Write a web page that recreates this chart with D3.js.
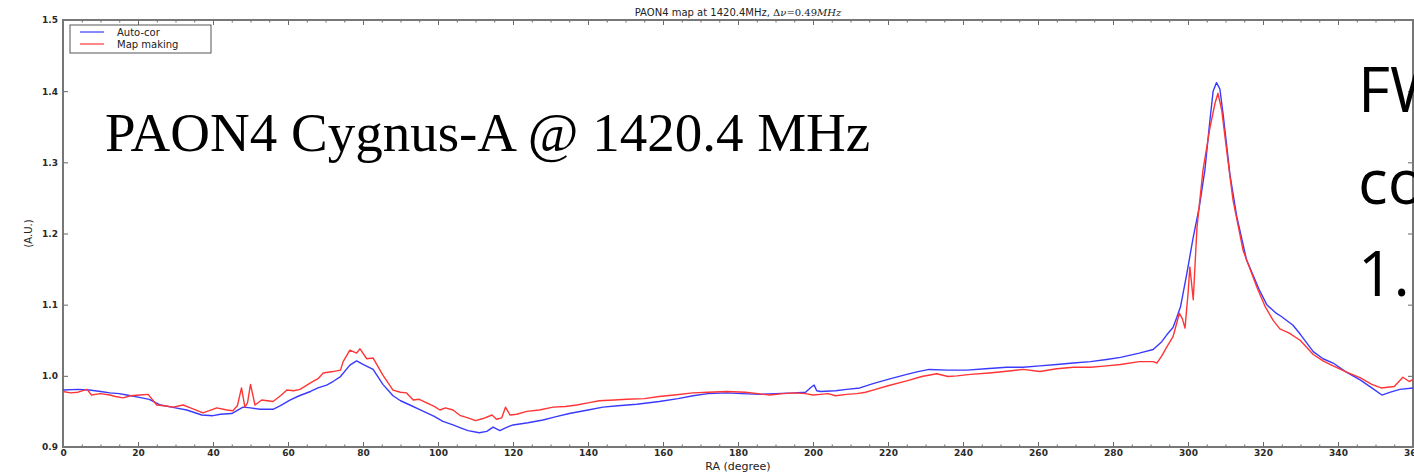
<!DOCTYPE html>
<html>
<head>
<meta charset="utf-8">
<script src="https://cdn.jsdelivr.net/npm/d3@7"></script>
<style>
  body { margin: 0; background: #fff; }
  svg { display: block; }
  .tick text { font-family: "DejaVu Sans", sans-serif; font-size: 9px; fill: #2a2a2a; font-weight: 600; }
  .axis path { display: none; }
  .axis line { stroke: #666; }
</style>
</head>
<body>
<svg width="1414" height="472"></svg>
<script>
// RA (degree) sample positions and values
var raAuto = [0,4,7,10,12.5,15,17,20,23,26,30,33,37,40,42,45,48,50,52.5,56,58,60.5,63,66,68,70.3,72,74,76.5,78.3,80,82.7,85.3,88,90,92.5,95,97,99,101.3,104,106,108,111,113,114.7,116.5,118,120,124,128,131,135,140,144,148,153,159,164,168,172,177,181,186,190,195,198,199.5,200.3,201,202,206,209,212.5,216,220,225,228,231,236,241,246,251.7,256,260.5,265,269.4,274,278.3,282,287,290.7,293,294.4,296,297,298,299.7,301.3,303,304.5,305.9,306.7,307.6,308.5,309.4,311.2,313,315.6,319,321,323.5,325,328,330,333.4,336,338.7,342,346,349,351.7,354,356.5,360];
var autoCor = [0.980,0.981,0.980,0.978,0.976,0.975,0.973,0.970,0.967,0.959,0.955,0.952,0.945,0.944,0.946,0.947,0.956,0.955,0.953,0.953,0.958,0.966,0.972,0.978,0.983,0.987,0.992,0.999,1.015,1.021,1.016,1.009,0.988,0.972,0.965,0.959,0.953,0.948,0.943,0.936,0.931,0.927,0.923,0.920,0.922,0.928,0.923,0.927,0.931,0.934,0.938,0.942,0.947,0.952,0.956,0.958,0.960,0.964,0.968,0.972,0.975,0.976,0.975,0.974,0.975,0.976,0.977,0.984,0.987,0.979,0.978,0.979,0.981,0.983,0.989,0.995,1.002,1.006,1.009,1.008,1.008,1.010,1.012,1.012,1.014,1.016,1.018,1.020,1.023,1.026,1.032,1.037,1.048,1.058,1.068,1.082,1.097,1.144,1.192,1.237,1.289,1.362,1.400,1.412,1.403,1.366,1.282,1.224,1.163,1.121,1.100,1.088,1.083,1.071,1.058,1.034,1.024,1.018,1.006,0.994,0.983,0.973,0.977,0.981,0.983];

var raMap = [0,2,4,6.4,7.6,10,12.5,14,16,18,20.5,22.7,25,27,29.4,32,34,37.3,39,41,43.7,45.3,46.5,47.6,48.5,49.2,50,51.2,53,56,58,59.7,61.5,63.2,66,68,69.4,72,74,74.7,76.5,78.3,79.2,81,82.7,85.3,88,90,91.6,93.4,95,97,99,100.5,102,104,106,108,110,112,114.4,115.6,117,118,119.2,121,123.7,127,130.7,134,137,140,143,147,150.4,155,159,163,168,172,177,182,188.5,192,195,198,200,202,204,206,209,211.7,214,216,220,225,229,233,236,238.4,242,247,251,256,260.5,265,269.4,274,278.3,282,287,290.7,291.7,293,294.4,296,297.7,298.5,299.2,300,300.5,301.4,302.4,304,305.9,307.2,308,309,310.4,312,314.7,318.4,320.5,322.7,324.5,327,329.9,333.4,336,338.7,342,346,349,351.5,355,357.3,359,360];
var mapMaking = [0.978,0.976,0.977,0.981,0.973,0.975,0.973,0.971,0.969,0.972,0.973,0.974,0.959,0.958,0.956,0.959,0.955,0.948,0.951,0.955,0.952,0.951,0.958,0.983,0.956,0.962,0.988,0.959,0.966,0.964,0.972,0.980,0.979,0.981,0.990,0.996,1.004,1.006,1.008,1.020,1.036,1.032,1.038,1.024,1.025,1.001,0.980,0.977,0.976,0.966,0.967,0.962,0.957,0.952,0.955,0.952,0.944,0.941,0.937,0.940,0.945,0.939,0.941,0.956,0.945,0.946,0.950,0.952,0.956,0.957,0.959,0.962,0.965,0.966,0.967,0.968,0.971,0.973,0.976,0.977,0.978,0.977,0.973,0.975,0.976,0.975,0.973,0.974,0.975,0.972,0.974,0.975,0.977,0.980,0.986,0.993,0.999,1.003,0.999,1.000,1.002,1.004,1.006,1.009,1.006,1.010,1.012,1.012,1.014,1.016,1.020,1.020,1.018,1.028,1.041,1.055,1.088,1.080,1.067,1.115,1.153,1.107,1.209,1.289,1.350,1.383,1.397,1.373,1.313,1.247,1.176,1.124,1.098,1.078,1.066,1.060,1.050,1.030,1.021,1.014,1.006,0.997,0.988,0.983,0.985,0.998,0.992,0.995];

var xMajor = [0,20,40,60,80,100,120,140,160,180,200,220,240,260,280,300,320,340,360];
var yMajor = [0.9,1.0,1.1,1.2,1.3,1.4,1.5];
var legendNames = ["Auto-cor", "Map making"];
var colors = ["#3a3aff", "#ff3535"];

var svg = d3.select("svg"),
    margin = {top: 20, right: 1, bottom: 25, left: 63},
    width = +svg.attr("width") - margin.left - margin.right,
    height = +svg.attr("height") - margin.top - margin.bottom,
    g = svg.append("g").attr("transform", "translate(" + margin.left + "," + margin.top + ")");

var x = d3.scaleLinear().domain([0, 360]).range([0, width]);
var y = d3.scaleLinear().domain([0.9, 1.5]).range([height, 0]);

var xMinor = d3.range(0, 361, 5).filter(function(d) { return d % 20 !== 0; });

// ticks (inward, matplotlib style)
g.append("g").attr("class", "axis")
    .attr("transform", "translate(0," + height + ")")
    .call(d3.axisBottom(x).tickValues(xMajor).tickSize(-5).tickPadding(3).tickFormat(d3.format("d")));
g.append("g").attr("class", "axis")
    .attr("transform", "translate(0," + height + ")")
    .call(d3.axisBottom(x).tickValues(xMinor).tickSize(-2.5).tickFormat(""));
g.append("g").attr("class", "axis")
    .call(d3.axisTop(x).tickValues(xMajor).tickSize(-5).tickFormat(""));
g.append("g").attr("class", "axis")
    .call(d3.axisTop(x).tickValues(xMinor).tickSize(-2.5).tickFormat(""));
g.append("g").attr("class", "axis")
    .call(d3.axisLeft(y).tickValues(yMajor).tickSize(-5).tickPadding(5).tickFormat(d3.format(".1f")));
g.append("g").attr("class", "axis")
    .attr("transform", "translate(" + width + ",0)")
    .call(d3.axisRight(y).tickValues(yMajor).tickSize(-5).tickFormat(""));

// frame
g.append("rect")
    .attr("width", width).attr("height", height)
    .attr("fill", "none").attr("stroke", "#777").attr("stroke-width", 2);

var line = d3.line()
    .x(function(d) { return x(d[0]); })
    .y(function(d) { return y(d[1]); });

var series = [d3.zip(raAuto, autoCor), d3.zip(raMap, mapMaking)];

g.selectAll(".series")
    .data(series)
    .enter().append("path")
      .attr("class", "series")
      .attr("fill", "none")
      .attr("stroke", function(d, i) { return colors[i]; })
      .attr("stroke-width", 1.4)
      .attr("stroke-linejoin", "round")
      .attr("d", line);

// legend
var legend = g.append("g").attr("transform", "translate(7,5)");
legend.append("rect")
    .attr("width", 141).attr("height", 28)
    .attr("fill", "#fff").attr("stroke", "#555").attr("stroke-width", 1);
legend.selectAll(".leg")
    .data(legendNames)
    .enter().append("g")
      .attr("transform", function(d, i) { return "translate(10," + (7 + i * 12) + ")"; })
      .each(function(d, i) {
        var s = d3.select(this);
        s.append("line").attr("x1", 0).attr("x2", 24).attr("stroke", colors[i]).attr("stroke-width", 1.2);
        s.append("text").attr("x", 37).attr("dy", "0.35em")
          .attr("font-family", "DejaVu Sans, sans-serif").attr("font-size", 10).attr("fill", "#222")
          .text(d);
      });

// title
var title = svg.append("text")
    .attr("x", margin.left + width / 2).attr("y", 16)
    .attr("text-anchor", "middle")
    .attr("font-family", "DejaVu Sans, sans-serif").attr("font-size", 10).attr("fill", "#222");
title.append("tspan").text("PAON4 map at 1420.4MHz, ");
title.append("tspan").attr("font-family", "DejaVu Serif, serif").text("Δ");
title.append("tspan").attr("font-family", "DejaVu Serif, serif").attr("font-style", "italic").text("ν");
title.append("tspan").attr("font-family", "DejaVu Serif, serif").text("=0.49");
title.append("tspan").attr("font-family", "DejaVu Serif, serif").attr("font-style", "italic").text("MHz");

// axis labels
svg.append("text")
    .attr("x", margin.left + width / 2).attr("y", 470)
    .attr("text-anchor", "middle")
    .attr("font-family", "DejaVu Sans, sans-serif").attr("font-size", 11).attr("fill", "#222")
    .text("RA (degree)");
svg.append("text")
    .attr("transform", "translate(32," + (margin.top + height / 2) + ") rotate(-90)")
    .attr("text-anchor", "middle")
    .attr("font-family", "DejaVu Sans, sans-serif").attr("font-size", 10).attr("fill", "#222")
    .text("(A.U.)");

// slide overlay texts
svg.append("text")
    .attr("x", 105).attr("y", 151)
    .attr("font-family", "Liberation Serif, serif").attr("font-size", 55).attr("fill", "#000")
    .text("PAON4 Cygnus-A @ 1420.4 MHz");
var side = ["FW", "co", "1."];
svg.selectAll(".side")
    .data(side)
    .enter().append("text")
      .attr("class", "side")
      .attr("x", 1358)
      .attr("y", function(d, i) { return 112 + i * 92; })
      .attr("font-family", "Open Sans, sans-serif").attr("font-size", 62).attr("fill", "#000")
      .text(function(d) { return d; });
</script>
</body>
</html>
